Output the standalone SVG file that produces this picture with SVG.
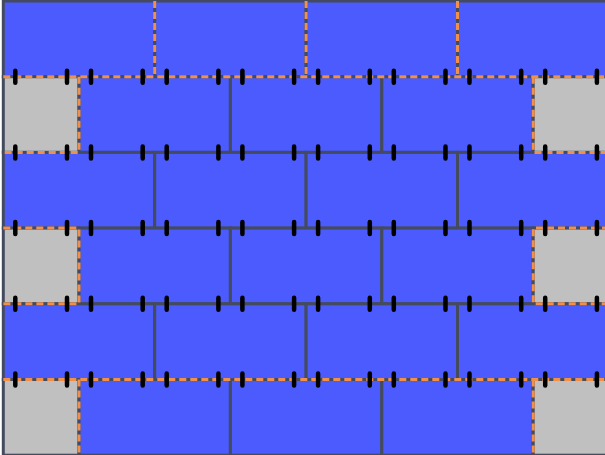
<svg xmlns="http://www.w3.org/2000/svg" xmlns:xlink="http://www.w3.org/1999/xlink" width="605" height="455" viewBox="0 0 605 455">
<style>
.b{fill:#4b5bfd;stroke:#444b5e;stroke-width:3}
.g{fill:#c0c0c0;stroke:#444b5e;stroke-width:3}
.d{fill:none;stroke:#f0904a;stroke-width:3;stroke-dasharray:7 4}
.t{fill:none;stroke:#000;stroke-width:4.5;stroke-linecap:round}
</style>
<defs>
<path id="ticks" class="t" d="M15.3 -6v12M67 -6v12M91 -6v12M142.7 -6v12M166.7 -6v12M218.4 -6v12M242.4 -6v12M294.1 -6v12M318.1 -6v12M369.8 -6v12M393.8 -6v12M445.5 -6v12M469.5 -6v12M521.2 -6v12M545.2 -6v12M596.9 -6v12"/>
</defs>
<rect x="0" y="0" width="605" height="455" fill="#ffffff"/>
<g id="bricks">
<g id="r0b0"><rect class="b" x="3.3" y="1" width="151.4" height="75.7"/></g>
<g id="r0b1"><rect class="b" x="154.7" y="1" width="151.4" height="75.7"/></g>
<g id="r0b2"><rect class="b" x="306.1" y="1" width="151.4" height="75.7"/></g>
<g id="r0b3"><rect class="b" x="457.5" y="1" width="151.4" height="75.7"/></g>

<g id="r1g0"><rect class="g" x="3.3" y="76.7" width="75.7" height="75.7"/></g>
<g id="r1b1"><rect class="b" x="79" y="76.7" width="151.4" height="75.7"/></g>
<g id="r1b2"><rect class="b" x="230.4" y="76.7" width="151.4" height="75.7"/></g>
<g id="r1b3"><rect class="b" x="381.8" y="76.7" width="151.4" height="75.7"/></g>
<g id="r1g4"><rect class="g" x="533.2" y="76.7" width="75.7" height="75.7"/></g>

<g id="r2b0"><rect class="b" x="3.3" y="152.4" width="151.4" height="75.7"/></g>
<g id="r2b1"><rect class="b" x="154.7" y="152.4" width="151.4" height="75.7"/></g>
<g id="r2b2"><rect class="b" x="306.1" y="152.4" width="151.4" height="75.7"/></g>
<g id="r2b3"><rect class="b" x="457.5" y="152.4" width="151.4" height="75.7"/></g>

<g id="r3g0"><rect class="g" x="3.3" y="228.1" width="75.7" height="75.7"/></g>
<g id="r3b1"><rect class="b" x="79" y="228.1" width="151.4" height="75.7"/></g>
<g id="r3b2"><rect class="b" x="230.4" y="228.1" width="151.4" height="75.7"/></g>
<g id="r3b3"><rect class="b" x="381.8" y="228.1" width="151.4" height="75.7"/></g>
<g id="r3g4"><rect class="g" x="533.2" y="228.1" width="75.7" height="75.7"/></g>

<g id="r4b0"><rect class="b" x="3.3" y="303.8" width="151.4" height="75.7"/></g>
<g id="r4b1"><rect class="b" x="154.7" y="303.8" width="151.4" height="75.7"/></g>
<g id="r4b2"><rect class="b" x="306.1" y="303.8" width="151.4" height="75.7"/></g>
<g id="r4b3"><rect class="b" x="457.5" y="303.8" width="151.4" height="75.7"/></g>

<g id="r5g0"><rect class="g" x="3.3" y="379.5" width="75.7" height="75.7"/></g>
<g id="r5b1"><rect class="b" x="79" y="379.5" width="151.4" height="75.7"/></g>
<g id="r5b2"><rect class="b" x="230.4" y="379.5" width="151.4" height="75.7"/></g>
<g id="r5b3"><rect class="b" x="381.8" y="379.5" width="151.4" height="75.7"/></g>
<g id="r5g4"><rect class="g" x="533.2" y="379.5" width="75.7" height="75.7"/></g>
</g>
<g id="connectors">
<path class="d" d="M3.3 76.7H609M3.3 379.5H609"/>
<path class="d" d="M154.7 1V76.7M306.1 1V76.7M457.5 1V76.7"/>
<path class="d" d="M79 76.7V152.4H3.3M533.2 76.7V152.4H609"/>
<path class="d" d="M3.3 228.1H79V303.8H3.3M609 228.1H533.2V303.8H609"/>
<path class="d" d="M79 379.5V455.2M533.2 379.5V455.2"/>
</g>
<g id="ticks-layer">
<use xlink:href="#ticks" y="76.7"/>
<use xlink:href="#ticks" y="152.4"/>
<use xlink:href="#ticks" y="228.1"/>
<use xlink:href="#ticks" y="303.8"/>
<use xlink:href="#ticks" y="379.5"/>
</g>
</svg>
